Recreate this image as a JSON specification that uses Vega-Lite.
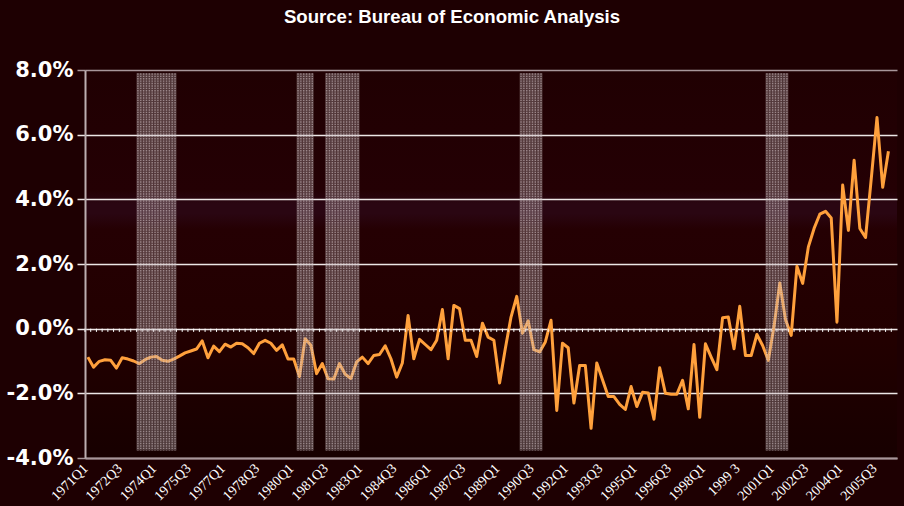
{
  "$schema": "https://vega.github.io/schema/vega-lite/v6.json",
  "width": 812,
  "height": 388,
  "autosize": "none",
  "padding": {"left": 85, "top": 70, "right": 7, "bottom": 48},
  "background": "#1e0002",
  "title": {
    "text": "Source: Bureau of Economic Analysis",
    "color": "#ffffff",
    "font": "Liberation Sans",
    "fontSize": 18.6,
    "fontWeight": "bold",
    "anchor": "middle",
    "dx": -39,
    "offset": 32
  },
  "config": {
    "view": {
      "stroke": null,
      "fill": {
        "gradient": "linear",
        "x1": 0, "y1": 0, "x2": 0, "y2": 1,
        "stops": [
          {"offset": 0, "color": "#200002"},
          {"offset": 0.31, "color": "#240004"},
          {"offset": 0.345, "color": "#2a0612"},
          {"offset": 0.37, "color": "#2a0612"},
          {"offset": 0.41, "color": "#250003"},
          {"offset": 0.7, "color": "#220000"},
          {"offset": 1, "color": "#170000"}
        ]
      }
    }
  },
  "datasets": {
    "gdp": [
      {"q": "1971Q1", "v": -0.88}, {"q": "1971Q2", "v": -1.19}, {"q": "1971Q3", "v": -1.01}, {"q": "1971Q4", "v": -0.96},
      {"q": "1972Q1", "v": -0.98}, {"q": "1972Q2", "v": -1.22}, {"q": "1972Q3", "v": -0.90}, {"q": "1972Q4", "v": -0.94},
      {"q": "1973Q1", "v": -1.00}, {"q": "1973Q2", "v": -1.08}, {"q": "1973Q3", "v": -0.96}, {"q": "1973Q4", "v": -0.88},
      {"q": "1974Q1", "v": -0.86}, {"q": "1974Q2", "v": -0.98}, {"q": "1974Q3", "v": -1.01}, {"q": "1974Q4", "v": -0.94},
      {"q": "1975Q1", "v": -0.85}, {"q": "1975Q2", "v": -0.75}, {"q": "1975Q3", "v": -0.69}, {"q": "1975Q4", "v": -0.63},
      {"q": "1976Q1", "v": -0.38}, {"q": "1976Q2", "v": -0.90}, {"q": "1976Q3", "v": -0.54}, {"q": "1976Q4", "v": -0.71},
      {"q": "1977Q1", "v": -0.48}, {"q": "1977Q2", "v": -0.57}, {"q": "1977Q3", "v": -0.45}, {"q": "1977Q4", "v": -0.47},
      {"q": "1978Q1", "v": -0.59}, {"q": "1978Q2", "v": -0.77}, {"q": "1978Q3", "v": -0.45}, {"q": "1978Q4", "v": -0.36},
      {"q": "1979Q1", "v": -0.45}, {"q": "1979Q2", "v": -0.67}, {"q": "1979Q3", "v": -0.50}, {"q": "1979Q4", "v": -0.94},
      {"q": "1980Q1", "v": -0.94}, {"q": "1980Q2", "v": -1.48}, {"q": "1980Q3", "v": -0.31}, {"q": "1980Q4", "v": -0.51},
      {"q": "1981Q1", "v": -1.39}, {"q": "1981Q2", "v": -1.08}, {"q": "1981Q3", "v": -1.55}, {"q": "1981Q4", "v": -1.56},
      {"q": "1982Q1", "v": -1.08}, {"q": "1982Q2", "v": -1.41}, {"q": "1982Q3", "v": -1.54}, {"q": "1982Q4", "v": -1.03},
      {"q": "1983Q1", "v": -0.88}, {"q": "1983Q2", "v": -1.08}, {"q": "1983Q3", "v": -0.83}, {"q": "1983Q4", "v": -0.80},
      {"q": "1984Q1", "v": -0.53}, {"q": "1984Q2", "v": -0.93}, {"q": "1984Q3", "v": -1.50}, {"q": "1984Q4", "v": -1.06},
      {"q": "1985Q1", "v": 0.41}, {"q": "1985Q2", "v": -0.93}, {"q": "1985Q3", "v": -0.33}, {"q": "1985Q4", "v": -0.49},
      {"q": "1986Q1", "v": -0.65}, {"q": "1986Q2", "v": -0.36}, {"q": "1986Q3", "v": 0.59}, {"q": "1986Q4", "v": -0.93},
      {"q": "1987Q1", "v": 0.72}, {"q": "1987Q2", "v": 0.62}, {"q": "1987Q3", "v": -0.36}, {"q": "1987Q4", "v": -0.36},
      {"q": "1988Q1", "v": -0.86}, {"q": "1988Q2", "v": 0.17}, {"q": "1988Q3", "v": -0.26}, {"q": "1988Q4", "v": -0.36},
      {"q": "1989Q1", "v": -1.68}, {"q": "1989Q2", "v": -0.62}, {"q": "1989Q3", "v": 0.36}, {"q": "1989Q4", "v": 1.00},
      {"q": "1990Q1", "v": -0.14}, {"q": "1990Q2", "v": 0.24}, {"q": "1990Q3", "v": -0.65}, {"q": "1990Q4", "v": -0.72},
      {"q": "1991Q1", "v": -0.41}, {"q": "1991Q2", "v": 0.26}, {"q": "1991Q3", "v": -2.53}, {"q": "1991Q4", "v": -0.45},
      {"q": "1992Q1", "v": -0.59}, {"q": "1992Q2", "v": -2.30}, {"q": "1992Q3", "v": -1.14}, {"q": "1992Q4", "v": -1.14},
      {"q": "1993Q1", "v": -3.08}, {"q": "1993Q2", "v": -1.06}, {"q": "1993Q3", "v": -1.58}, {"q": "1993Q4", "v": -2.10},
      {"q": "1994Q1", "v": -2.10}, {"q": "1994Q2", "v": -2.34}, {"q": "1994Q3", "v": -2.50}, {"q": "1994Q4", "v": -1.79},
      {"q": "1995Q1", "v": -2.41}, {"q": "1995Q2", "v": -1.97}, {"q": "1995Q3", "v": -1.99}, {"q": "1995Q4", "v": -2.80},
      {"q": "1996Q1", "v": -1.21}, {"q": "1996Q2", "v": -2.00}, {"q": "1996Q3", "v": -2.03}, {"q": "1996Q4", "v": -2.03},
      {"q": "1997Q1", "v": -1.60}, {"q": "1997Q2", "v": -2.48}, {"q": "1997Q3", "v": -0.49}, {"q": "1997Q4", "v": -2.74},
      {"q": "1998Q1", "v": -0.47}, {"q": "1998Q2", "v": -0.88}, {"q": "1998Q3", "v": -1.27}, {"q": "1998Q4", "v": 0.34},
      {"q": "1999Q1", "v": 0.36}, {"q": "1999Q2", "v": -0.62}, {"q": "1999Q3", "v": 0.69}, {"q": "1999Q4", "v": -0.83},
      {"q": "2000Q1", "v": -0.83}, {"q": "2000Q2", "v": -0.18}, {"q": "2000Q3", "v": -0.52}, {"q": "2000Q4", "v": -0.98},
      {"q": "2001Q1", "v": 0.08}, {"q": "2001Q2", "v": 1.41}, {"q": "2001Q3", "v": 0.28}, {"q": "2001Q4", "v": -0.21},
      {"q": "2002Q1", "v": 1.93}, {"q": "2002Q2", "v": 1.40}, {"q": "2002Q3", "v": 2.53}, {"q": "2002Q4", "v": 3.10},
      {"q": "2003Q1", "v": 3.54}, {"q": "2003Q2", "v": 3.63}, {"q": "2003Q3", "v": 3.42}, {"q": "2003Q4", "v": 0.20},
      {"q": "2004Q1", "v": 4.44}, {"q": "2004Q2", "v": 3.04}, {"q": "2004Q3", "v": 5.21}, {"q": "2004Q4", "v": 3.10},
      {"q": "2005Q1", "v": 2.82}, {"q": "2005Q2", "v": 4.64}, {"q": "2005Q3", "v": 6.53}, {"q": "2005Q4", "v": 4.37},
      {"q": "2006Q1", "v": 5.49}, {"q": "2006Q2", "v": null}
    ],
    "recession": [
      {"q": "1973Q2"}, {"q": "1973Q3"}, {"q": "1973Q4"}, {"q": "1974Q1"}, {"q": "1974Q2"}, {"q": "1974Q3"}, {"q": "1974Q4"},
      {"q": "1980Q2"}, {"q": "1980Q3"}, {"q": "1980Q4"},
      {"q": "1981Q3"}, {"q": "1981Q4"}, {"q": "1982Q1"}, {"q": "1982Q2"}, {"q": "1982Q3"}, {"q": "1982Q4"},
      {"q": "1990Q1"}, {"q": "1990Q2"}, {"q": "1990Q3"}, {"q": "1990Q4"},
      {"q": "2000Q4"}, {"q": "2001Q1"}, {"q": "2001Q2"}, {"q": "2001Q3"}
    ]
  },
  "layer": [
    {
      "data": {"name": "gdp"},
      "mark": {"type": "line", "color": "#ffa03c", "strokeWidth": 3, "strokeJoin": "round"},
      "encoding": {
        "x": {
          "field": "q",
          "type": "ordinal",
          "bandPosition": 0.5,
          "scale": {"type": "band", "paddingInner": 0, "paddingOuter": 0},
          "axis": {
            "title": null,
            "values": ["1971Q1", "1972Q3", "1974Q1", "1975Q3", "1977Q1", "1978Q3", "1980Q1", "1981Q3", "1983Q1", "1984Q3", "1986Q1", "1987Q3", "1989Q1", "1990Q3", "1992Q1", "1993Q3", "1995Q1", "1996Q3", "1998Q1", "1999Q3", "2001Q1", "2002Q3", "2004Q1", "2005Q3"],
            "labelExpr": "datum.value == '1999Q3' ? '1999 3' : datum.value",
            "labelAngle": -45,
            "labelAlign": "right",
            "labelBaseline": "middle",
            "labelPadding": 8,
            "labelOffset": -2,
            "labelFont": "Liberation Serif",
            "labelFontSize": 14,
            "labelColor": "#ffffff",
            "ticks": false,
            "grid": false,
            "domain": true,
            "domainColor": "#a8969a",
            "domainWidth": 2
          }
        },
        "y": {
          "field": "v",
          "type": "quantitative",
          "scale": {"domain": [-4, 8], "nice": false, "zero": false},
          "axis": {
            "title": null,
            "values": [-4, -2, 0, 2, 4, 6, 8],
            "labelExpr": "(datum.value < 0 ? '-' : '') + format(abs(datum.value), '.1f') + '%'",
            "labelFont": "DejaVu Sans",
            "labelFontSize": 21,
            "labelFontWeight": "bold",
            "labelColor": "#ffffff",
            "labelPadding": 4,
            "grid": true,
            "gridColor": {"condition": {"test": "datum.value == 8 || datum.value == -4", "value": "#a8969a"}, "value": "#ece6e6"},
            "gridWidth": 1.5,
            "tickSize": 8,
            "tickColor": {"condition": {"test": "datum.value == 8 || datum.value == -4", "value": "#a8969a"}, "value": "#ece6e6"},
            "tickWidth": 1.5,
            "domainColor": "#bcaeb0",
            "domainWidth": 2
          }
        }
      }
    },
    {
      "data": {"name": "gdp"},
      "mark": {"type": "rule", "color": "#ffffff", "strokeWidth": 1},
      "encoding": {
        "x": {"field": "q", "type": "ordinal", "bandPosition": 0},
        "y": {"datum": 0, "type": "quantitative"},
        "y2": {"datum": -0.1}
      }
    },
    {
      "data": {"name": "recession"},
      "mark": {"type": "bar", "color": "#b8a8ac", "opacity": 0.35},
      "encoding": {
        "x": {"field": "q", "type": "ordinal"},
        "y": {"datum": 7.9, "type": "quantitative"},
        "y2": {"datum": -3.77}
      }
    },
    {
      "data": {"name": "recession"},
      "mark": {"type": "rule", "color": "#f2e4e8", "opacity": 0.45, "strokeWidth": 1.4, "strokeDash": [1.4, 1]},
      "encoding": {
        "x": {"field": "q", "type": "ordinal", "bandPosition": 0.25},
        "y": {"datum": 7.9, "type": "quantitative"},
        "y2": {"datum": -3.77}
      }
    },
    {
      "data": {"name": "recession"},
      "mark": {"type": "rule", "color": "#f2e4e8", "opacity": 0.45, "strokeWidth": 1.4, "strokeDash": [1.4, 1]},
      "encoding": {
        "x": {"field": "q", "type": "ordinal", "bandPosition": 0.75},
        "y": {"datum": 7.9, "type": "quantitative"},
        "y2": {"datum": -3.77}
      }
    }
  ]
}
